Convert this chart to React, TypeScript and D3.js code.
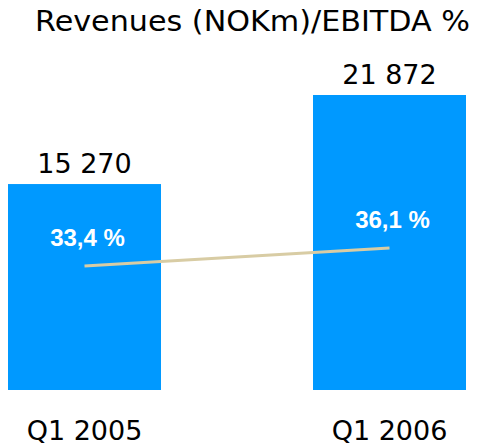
import React from 'react';
import * as d3 from 'd3';

const categories = ['Q1 2005', 'Q1 2006'];
const revenues = [15270, 21872];
const revenueLabels = ['15 270', '21 872'];
const ebitda = [33.4, 36.1];
const ebitdaLabels = ['33,4 %', '36,1 %'];

const W = 489;
const H = 445;

export default function App() {
  const x = d3.scaleBand<string>()
    .domain(categories)
    .range([8, 466])
    .paddingInner(0.4984)
    .paddingOuter(0);

  const y = d3.scaleLinear().domain([0, 21872]).range([390, 95]);
  // the EBITDA line has its own (hidden) axis
  const y2 = d3.scaleLinear().domain([0, 60]).range([488.7, 88.7]);

  const cx = (i: number) => (x(categories[i]) as number) + x.bandwidth() / 2;

  const line = d3.line<number>()
    .x((_, i) => cx(i))
    .y(d => y2(d));

  return (
    <svg width={W} height={H} style={{ position: 'absolute', left: 0, top: 0 }}>
      <text
        x={35}
        y={31}
        fontFamily="DejaVu Sans"
        fontSize={28.5}
        textLength={435}
        lengthAdjust="spacingAndGlyphs"
        fill="#000"
      >
        Revenues (NOKm)/EBITDA %
      </text>
      {revenues.map((v, i) => (
        <g key={categories[i]}>
          <rect
            x={x(categories[i])}
            y={y(v)}
            width={x.bandwidth()}
            height={y(0) - y(v)}
            fill="#0099FF"
          />
          <text x={cx(i)} y={y(v) - 11} textAnchor="middle" fontFamily="DejaVu Sans" fontSize={27} fill="#000">
            {revenueLabels[i]}
          </text>
          <text x={cx(i)} y={440} textAnchor="middle" fontFamily="DejaVu Sans" fontSize={27} fill="#000">
            {categories[i]}
          </text>
        </g>
      ))}
      <path d={line(ebitda) ?? ''} fill="none" stroke="#D8CCA4" strokeWidth={3} />
      {ebitda.map((v, i) => (
        <text
          key={i}
          x={cx(i) + 3}
          y={y2(v) - 20}
          textAnchor="middle"
          fontFamily="Liberation Sans"
          fontWeight="bold"
          fontSize={24}
          fill="#fff"
        >
          {ebitdaLabels[i]}
        </text>
      ))}
    </svg>
  );
}
